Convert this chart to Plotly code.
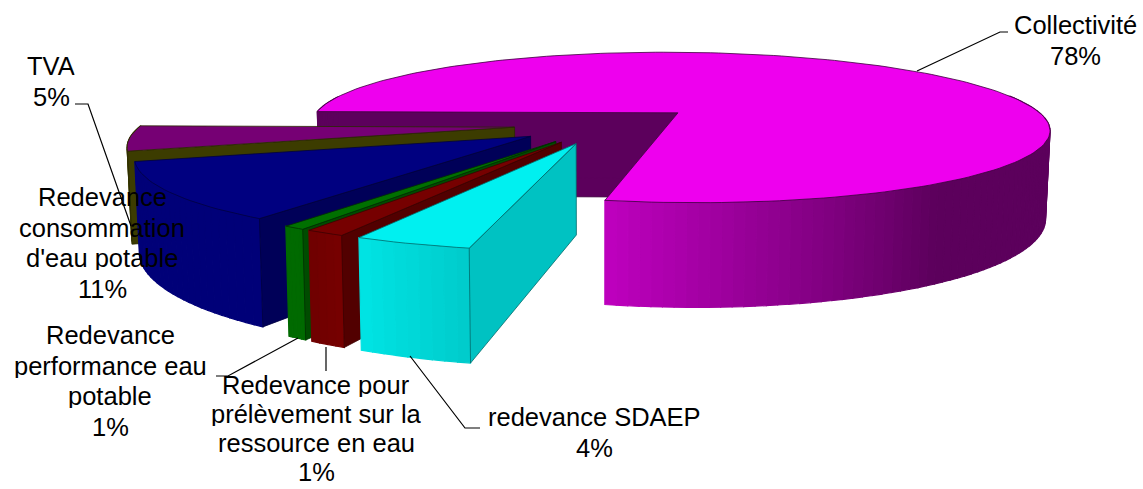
import math
import plotly.graph_objects as go

# --- data -------------------------------------------------------------
categories = ["Collectivité", "redevance SDAEP", "Redevance pour prélèvement sur la ressource en eau",
              "Redevance performance eau potable", "Redevance consommation d'eau potable", "TVA"]
shares = [78.0, 3.95, 1.35, 0.75, 11.0, 4.95]
shown_percent = ["78%", "4%", "1%", "1%", "11%", "5%"]

# --- styles -----------------------------------------------------------
top_col = ["#ee00ee", "#00f0f0", "#760000", "#007000", "#000080", "#760074"]
cut_col = ["#5c005c", "#00c2c2", "#520000", "#004c00", "#000058", "#3c3c00"]
out_a = ["#5c005c", "#00cccc", "#760000", "#006a00", "#000078", "#3c3c00"]   # at start angle
out_b = ["#c000c0", "#00e6e6", "#6e0000", "#006a00", "#000078", "#3c3c00"]   # at end angle
edge_col = ["#3c003c", "#006a6a", "#3c0000", "#003000", "#000040", "#2a2a00"]

# --- projection of the exploded pie ----------------------------------
START = 271.0
EXPLODE = 0.25
DEPTH = 5.0
RADIUS = 373.0
CX, CY = 607.5, 124.5
VX = 600.0
YSCALE = 77.0
THICK = 87.0
DARK_UNTIL = 505.0


def project(X, Y, bottom=False):
    s = DEPTH / (DEPTH - Y)
    sx = VX + (CX + RADIUS * X - VX) * s
    sy = CY + YSCALE * Y * s
    if bottom:
        sx = VX + (sx - VX) * 0.99
        sy += THICK * s
    return sx, sy


def rim(theta, ex, ey):
    t = math.radians(theta)
    return ex + math.sin(t), ey - math.cos(t)


def poly(fig, pts, fill, line=None, width=0.8):
    xs = [p[0] for p in pts] + [pts[0][0]]
    ys = [p[1] for p in pts] + [pts[0][1]]
    fig.add_trace(go.Scatter(x=xs, y=ys, mode="lines", fill="toself", fillcolor=fill,
                             line=dict(color=line or fill, width=width if line else 1.2),
                             hoverinfo="skip", showlegend=False))


def mix(a, b, f):
    ca = [int(a[i:i + 2], 16) for i in (1, 3, 5)]
    cb = [int(b[i:i + 2], 16) for i in (1, 3, 5)]
    return "#%02x%02x%02x" % tuple(round(u + (v - u) * f) for u, v in zip(ca, cb))


fig = go.Figure()

total = sum(shares)
spans = []
th = START
for v in shares:
    sweep = v / total * 360.0
    spans.append((th, th + sweep))
    th += sweep

for idx in [0, 5, 4, 3, 2, 1]:
    a0, a1 = spans[idx]
    mid = math.radians((a0 + a1) / 2)
    ex, ey = EXPLODE * math.sin(mid), -EXPLODE * math.cos(mid)
    n = max(4, int((a1 - a0) / 1.5))
    angs = [a0 + (a1 - a0) * i / n for i in range(n + 1)]

    apex = (ex, ey)
    corner = rim(a0, ex, ey)
    # cut wall on the start side
    wall = [project(*apex), project(*corner), project(*corner, True), project(*apex, True)]

    if idx == 0:
        poly(fig, wall, cut_col[idx], edge_col[idx])

    # outer wall in narrow shaded strips, only where it faces the viewer
    vis = [t for t in angs if math.cos(math.radians(t)) < 0.25]
    for i in range(len(vis) - 1):
        t0, t1 = vis[i], vis[i + 1]
        if idx == 0:
            f = max(0.0, min(1.0, (t0 - DARK_UNTIL) / (a1 - DARK_UNTIL)))
        else:
            f = (t0 - a0) / (a1 - a0)
        col = mix(out_a[idx], out_b[idx], f)
        p, q = rim(t0, ex, ey), rim(t1, ex, ey)
        poly(fig, [project(*p), project(*q), project(*q, True), project(*p, True)], col)

    if idx != 0:
        poly(fig, wall, cut_col[idx], edge_col[idx])

    # top face
    pts = [project(*apex)] + [project(*rim(t, ex, ey)) for t in angs]
    poly(fig, pts, top_col[idx], edge_col[idx])

# --- leader lines and labels -----------------------------------------
leaders = [
    ([917, 1000, 1008], [71, 32, 32]),
    ([75, 88, 131], [104, 104, 226]),
    ([410, 465, 480], [356, 428, 428]),
    ([326, 326], [347, 371]),
    ([298, 228, 216], [338, 376, 376]),
]
for lx, ly in leaders:
    fig.add_trace(go.Scatter(x=lx, y=ly, mode="lines", line=dict(color="#000000", width=1.2),
                             hoverinfo="skip", showlegend=False))

label_lines = [
    ["Collectivité"], ["redevance SDAEP"], ["Redevance pour", "prélèvement sur la", "ressource en eau"],
    ["Redevance", "performance eau", "potable"], ["Redevance", "consommation", "d'eau potable"], ["TVA"],
]
label_x = [1075, 594, 316, 110, 102, 51]
label_first_y = [25, 417, 385, 335, 197, 66]
label_step = [30.7, 30.7, 29.0, 30.7, 30.7, 30.7]
for lines, pct, lx, ly0, step in zip(label_lines, shown_percent, label_x, label_first_y, label_step):
    for i, text in enumerate(lines + [pct]):
        fig.add_annotation(x=lx, y=ly0 + i * step, text=text, showarrow=False, align="center",
                           xanchor="center", yanchor="middle", borderpad=0, height=24,
                           font=dict(family="Liberation Sans, Arial, sans-serif", size=25.5, color="#000000"))

fig.update_xaxes(range=[0, 1143], visible=False, fixedrange=True)
fig.update_yaxes(range=[489, 0], visible=False, fixedrange=True)
fig.update_layout(width=1143, height=489, margin=dict(l=0, r=0, t=0, b=0),
                  plot_bgcolor="#ffffff", paper_bgcolor="#ffffff", showlegend=False)
fig.write_html("out.html", config={"displayModeBar": False},
               post_script="document.body.style.margin='0';document.body.style.overflow='hidden';")
